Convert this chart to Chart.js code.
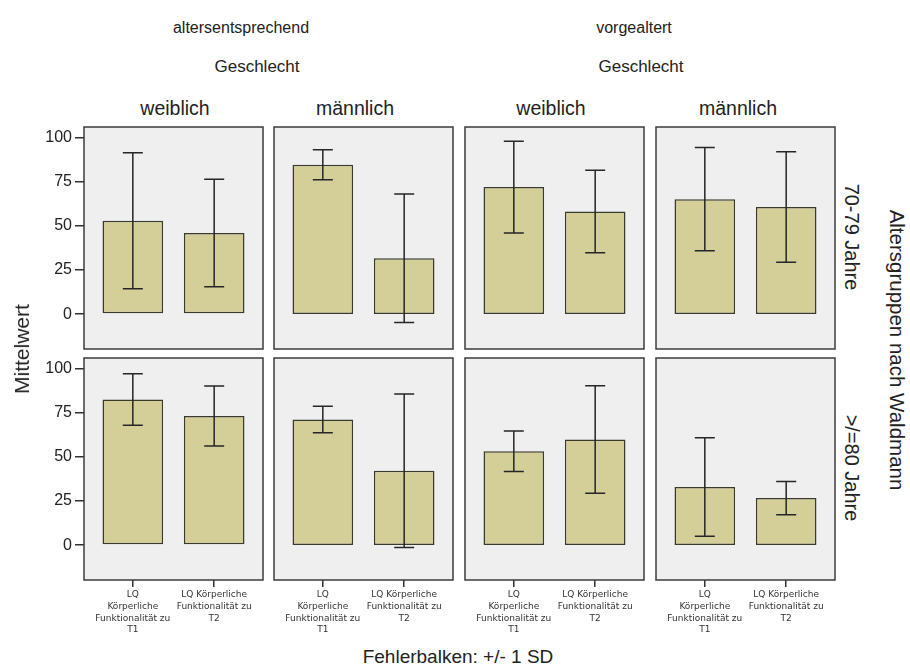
<!DOCTYPE html>
<html>
<head>
<meta charset="utf-8">
<script src="https://cdn.jsdelivr.net/npm/chart.js@4"></script>
<style>
  body { margin: 0; background: #fff; width: 910px; height: 668px; position: relative; overflow: hidden;
         font-family: "Liberation Sans", Arial, sans-serif; color: #222; }
  .lbl { position: absolute; white-space: nowrap; transform: translate(-50%, -50%); font-size: 19px; }
  .rot-l { transform: translate(-50%, -50%) rotate(-90deg); }
  .rot-r { transform: translate(-50%, -50%) rotate(90deg); }
  canvas { position: absolute; }
</style>
</head>
<body>
<script>
// Facet labels
const groupLabels = ['altersentsprechend', 'vorgealtert'];
const sexLabels = ['weiblich', 'männlich', 'weiblich', 'männlich'];
const ageLabels = ['70-79 Jahre', '>/=80 Jahre'];

// Bar categories (x axis), one label per measurement time
const categories = ['LQ Körperliche Funktionalität zu T1', 'LQ Körperliche Funktionalität zu T2'];
const xTickLines = [['LQ', 'Körperliche', 'Funktionalität zu', 'T1'], ['LQ Körperliche', 'Funktionalität zu', 'T2']];
const yTicks = [0, 25, 50, 75, 100];

// Means and standard deviations; columns: altersentsprechend weiblich, männlich, vorgealtert weiblich, männlich
const meanT1_7079 = [53.0, 84.8, 72.1, 65.2];
const meanT2_7079 = [46.0, 31.7, 58.2, 60.8];
const sdT1_7079   = [38.6, 8.5, 26.0, 29.3];
const sdT2_7079   = [30.5, 36.5, 23.4, 31.3];
const meanT1_80   = [82.7, 71.3, 53.3, 33.0];
const meanT2_80   = [73.3, 42.2, 60.0, 26.7];
const sdT1_80     = [14.6, 7.5, 11.5, 28.0];
const sdT2_80     = [17.0, 43.5, 30.5, 9.4];

const meansByRow = [[meanT1_7079, meanT2_7079], [meanT1_80, meanT2_80]];
const sdsByRow = [[sdT1_7079, sdT2_7079], [sdT1_80, sdT2_80]];

// Panel geometry
const FRAME_LEFT = [84, 274, 465, 656];
const FRAME_W = 179;
const FRAME_TOP = [127, 358];
const FRAME_H = 222;
const Y_AXIS_W = 60;
const X_AXIS_H = 62;
const PAD = 3;

Chart.defaults.font.family = '"Liberation Sans", Arial, sans-serif';
Chart.defaults.color = '#222';

// Panel background, frame and ±1 SD error bars
const panelPlugin = {
  id: 'panel',
  beforeDatasetsDraw(chart) {
    const a = chart.chartArea, ctx = chart.ctx;
    ctx.save();
    ctx.fillStyle = '#efefef';
    ctx.fillRect(a.left, a.top, a.right - a.left, a.bottom - a.top);
    ctx.restore();
  },
  afterDatasetsDraw(chart, args, opts) {
    const a = chart.chartArea, ctx = chart.ctx;
    const yScale = chart.scales.y;
    const meta = chart.getDatasetMeta(0);
    const ds = chart.data.datasets[0];
    ctx.save();
    ctx.strokeStyle = '#262626';
    ctx.lineWidth = 1.5;
    meta.data.forEach((bar, i) => {
      const m = ds.data[i].y, sd = opts.sd[i];
      const yHi = yScale.getPixelForValue(m + sd);
      const yLo = yScale.getPixelForValue(m - sd);
      ctx.beginPath();
      ctx.moveTo(bar.x, yHi); ctx.lineTo(bar.x, yLo);
      ctx.moveTo(bar.x - 10, yHi); ctx.lineTo(bar.x + 10, yHi);
      ctx.moveTo(bar.x - 10, yLo); ctx.lineTo(bar.x + 10, yLo);
      ctx.stroke();
    });
    ctx.strokeStyle = '#3c3c3c';
    ctx.lineWidth = 1.5;
    ctx.strokeRect(a.left, a.top, a.right - a.left, a.bottom - a.top);
    ctx.restore();
  }
};

function makePanel(r, c) {
  const showY = c === 0, showX = r === 1;
  const yW = showY ? Y_AXIS_W : 0;
  const padL = showY ? 0 : PAD;
  const w = yW + padL + FRAME_W + PAD;
  const h = PAD + FRAME_H + (showX ? X_AXIS_H : PAD);
  const cv = document.createElement('canvas');
  cv.width = w; cv.height = h;
  cv.style.left = (FRAME_LEFT[c] - yW - padL) + 'px';
  cv.style.top = (FRAME_TOP[r] - PAD) + 'px';
  cv.style.width = w + 'px'; cv.style.height = h + 'px';
  document.body.appendChild(cv);

  const means = categories.map((_, k) => meansByRow[r][k][c]);
  const sds = categories.map((_, k) => sdsByRow[r][k][c]);

  new Chart(cv, {
    type: 'bar',
    data: {
      datasets: [{
        data: means.map((m, k) => ({ x: k, y: m })),
        backgroundColor: '#d4cf98',
        borderColor: '#3a3a2c',
        borderWidth: 1.5,
        borderSkipped: false,
        categoryPercentage: 1,
        barPercentage: 0.745
      }]
    },
    options: {
      responsive: false,
      animation: false,
      devicePixelRatio: 1,
      events: [],
      layout: { padding: { left: padL, right: PAD, top: PAD, bottom: showX ? 0 : PAD } },
      plugins: { legend: { display: false }, tooltip: { enabled: false }, panel: { sd: sds } },
      scales: {
        x: {
          type: 'linear',
          display: showX,
          min: -0.6, max: 1.6,
          offset: false,
          afterBuildTicks: s => { s.ticks = categories.map((_, k) => ({ value: k })); },
          afterFit: s => {
            if (showX) s.height = X_AXIS_H;
            s.paddingLeft = 0; s.paddingRight = 0;
          },
          grid: { offset: false, drawOnChartArea: false, drawTicks: true, tickLength: 7, color: '#333', lineWidth: 1.5 },
          border: { display: false },
          ticks: {
            callback: v => xTickLines[v],
            autoSkip: false, maxRotation: 0, minRotation: 0, padding: 2,
            color: '#333',
            font: { family: '"DejaVu Sans", sans-serif', size: 9, lineHeight: 1.3 }
          }
        },
        y: {
          display: showY,
          min: -19.8, max: 106.2,
          afterBuildTicks: s => { s.ticks = yTicks.map(v => ({ value: v })); },
          afterFit: s => {
            if (showY) s.width = Y_AXIS_W;
            s.paddingTop = 0; s.paddingBottom = 0;
          },
          grid: { drawOnChartArea: false, drawTicks: true, tickLength: 9, color: '#333', lineWidth: 1.5 },
          border: { display: false },
          ticks: { padding: 3, color: '#222', font: { size: 16 } }
        }
      }
    },
    plugins: [panelPlugin]
  });
}

for (let r = 0; r < 2; r++) for (let c = 0; c < 4; c++) makePanel(r, c);

// Facet and axis titles
function addLabel(text, x, y, cls, size) {
  const d = document.createElement('div');
  d.className = 'lbl' + (cls ? ' ' + cls : '');
  d.textContent = text;
  d.style.left = x + 'px';
  d.style.top = y + 'px';
  if (size) d.style.fontSize = size + 'px';
  document.body.appendChild(d);
}
addLabel(groupLabels[0], 241, 28, '', 16);
addLabel(groupLabels[1], 634, 28, '', 16);
addLabel('Geschlecht', 257, 67, '', 17);
addLabel('Geschlecht', 641, 67, '', 17);
[175, 355, 551, 738].forEach((x, i) => addLabel(sexLabels[i], x, 108, '', 19.5));
addLabel('Mittelwert', 22, 349, 'rot-l', 21);
addLabel(ageLabels[0], 851, 237, 'rot-r', 20);
addLabel(ageLabels[1], 851, 468, 'rot-r', 20);
addLabel('Altersgruppen nach Waldmann', 897, 350, 'rot-r', 20.5);
addLabel('Fehlerbalken: +/- 1 SD', 458, 657, '', 19);
</script>
</body>
</html>
